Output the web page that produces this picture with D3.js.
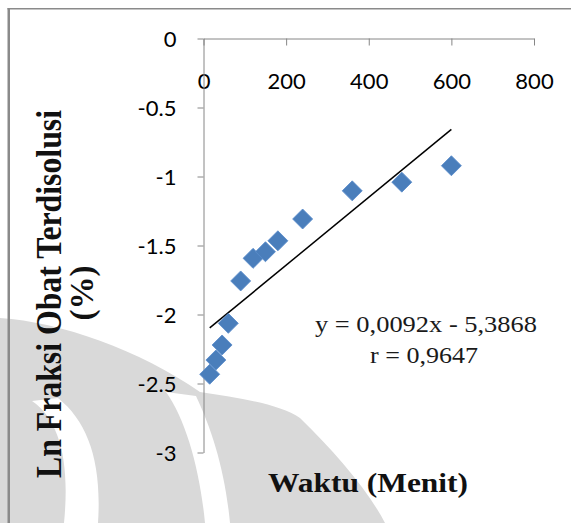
<!DOCTYPE html>
<html>
<head>
<meta charset="utf-8">
<script src="https://cdn.jsdelivr.net/npm/d3@7"></script>
<style>
  html, body { margin: 0; padding: 0; background: #fff; }
  svg { display: block; }
</style>
</head>
<body>
<svg id="chart" width="571" height="523"></svg>
<script>
// Sampling times (minutes) and ln of dissolved drug fraction
const times = [15, 30, 45, 60, 90, 120, 150, 180, 240, 360, 480, 600];
const lnFraction = [-2.433, -2.330, -2.221, -2.064, -1.757, -1.593, -1.545, -1.466, -1.308, -1.104, -1.041, -0.922];

// Axis ticks and labels
const xTicks = [0, 200, 400, 600, 800];
const xTickLabels = ["0", "200", "400", "600", "800"];
const yTicks = [0, -0.5, -1, -1.5, -2, -2.5, -3];
const yTickLabels = ["0", "-0.5", "-1", "-1.5", "-2", "-2.5", "-3"];

// Text
const xTitle = "Waktu (Menit)";
const yTitleLines = ["Ln Fraksi Obat Terdisolusi", "(%)"];
const equationLines = ["y = 0,0092x - 5,3868", "r = 0,9647"];

const svg = d3.select("#chart");

// Faint background emblem
const wm = svg.append("g").attr("class", "emblem");
wm.append("path")
  .attr("d", "M0,318 C60,322 140,350 200,392 C240,398 280,404 300,418 C335,452 368,490 385,523 L0,523 Z")
  .attr("fill", "#d9d9d9");
wm.append("path")
  .attr("d", "M32,401 C60,420 70,462 64,523 L98,523 C102,462 88,422 58,398 Z")
  .attr("fill", "#fff");
wm.append("path")
  .attr("d", "M166,392 C186,420 200,470 205,523 L230,523 C225,470 212,430 196,396 Z")
  .attr("fill", "#fff");

// Frame
svg.append("rect").attr("x", 7.5).attr("y", 8).attr("width", 2.5).attr("height", 515).attr("fill", "#8a8a8a");
svg.append("rect").attr("x", 7.5).attr("y", 8).attr("width", 563.5).attr("height", 1.5).attr("fill", "#8a8a8a");

// Scales
const x = d3.scaleLinear().domain([0, 800]).range([203.5, 534]);
const y = d3.scaleLinear().domain([0, -3]).range([38.5, 452.5]);

const axisColor = "#868686";
const tickFont = "Lato, 'Open Sans', sans-serif";

// X axis sits at y = 0 with labels beneath
const gx = svg.append("g")
  .attr("transform", `translate(0,${y(0)})`)
  .call(d3.axisBottom(x).tickValues(xTicks).tickFormat((d, i) => xTickLabels[i]).tickSize(7).tickSizeOuter(0));
gx.select(".domain").attr("stroke", axisColor);
gx.selectAll(".tick line").attr("stroke", axisColor);
gx.selectAll(".tick text")
  .attr("y", 50).attr("dy", 0)
  .attr("font-family", tickFont).attr("font-size", 22).attr("fill", "#000");

// Y axis
const gy = svg.append("g")
  .attr("transform", `translate(${x(0)},0)`)
  .call(d3.axisLeft(y).tickValues(yTicks).tickFormat((d, i) => yTickLabels[i]).tickSize(6).tickSizeOuter(0));
gy.select(".domain").attr("stroke", axisColor);
gy.selectAll(".tick line").attr("stroke", axisColor);
gy.selectAll(".tick text")
  .attr("x", -27).attr("dy", "0.36em")
  .attr("font-family", tickFont).attr("font-size", 22).attr("fill", "#000");

// Least-squares trend line through the points
const mx = d3.mean(times), my = d3.mean(lnFraction);
const sxy = d3.sum(times, (t, i) => (t - mx) * (lnFraction[i] - my));
const sxx = d3.sum(times, t => (t - mx) * (t - mx));
const slope = sxy / sxx, intercept = my - slope * mx;
const xExt = d3.extent(times);
svg.append("path")
  .attr("d", d3.line()(xExt.map(t => [x(t), y(intercept + slope * t)])))
  .attr("stroke", "#000").attr("stroke-width", 1.5).attr("fill", "none");

// Diamond markers
const diamond = d3.symbol().type(d3.symbolSquare).size(200);
svg.append("g").selectAll("path")
  .data(times.map((t, i) => [t, lnFraction[i]]))
  .join("path")
  .attr("d", diamond)
  .attr("transform", d => `translate(${x(d[0])},${y(d[1])}) rotate(45)`)
  .attr("fill", "#4a7ebb")
  .attr("stroke", "#5b8ccb").attr("stroke-width", 0.8);

// Regression equation
const serif = "'Liberation Serif', 'Times New Roman', serif";
svg.append("text")
  .attr("x", 426).attr("y", 332).attr("text-anchor", "middle")
  .attr("font-family", serif).attr("font-size", 24).attr("fill", "#1a1a1a")
  .attr("textLength", 222).attr("lengthAdjust", "spacingAndGlyphs")
  .text(equationLines[0]);
svg.append("text")
  .attr("x", 424).attr("y", 363).attr("text-anchor", "middle")
  .attr("font-family", serif).attr("font-size", 24).attr("fill", "#1a1a1a")
  .attr("textLength", 108).attr("lengthAdjust", "spacingAndGlyphs")
  .text(equationLines[1]);

// Axis titles
svg.append("text")
  .attr("x", 268).attr("y", 492)
  .attr("font-family", serif).attr("font-weight", "bold").attr("font-size", 28).attr("fill", "#111")
  .attr("textLength", 200).attr("lengthAdjust", "spacingAndGlyphs")
  .text(xTitle);

svg.append("text")
  .attr("transform", "translate(61,294) rotate(-90)")
  .attr("text-anchor", "middle")
  .attr("font-family", serif).attr("font-weight", "bold").attr("font-size", 35).attr("fill", "#111")
  .attr("textLength", 368).attr("lengthAdjust", "spacingAndGlyphs")
  .text(yTitleLines[0]);
svg.append("text")
  .attr("transform", "translate(93,293) rotate(-90)")
  .attr("text-anchor", "middle")
  .attr("font-family", serif).attr("font-weight", "bold").attr("font-size", 33).attr("fill", "#111")
  .text(yTitleLines[1]);
</script>
</body>
</html>
